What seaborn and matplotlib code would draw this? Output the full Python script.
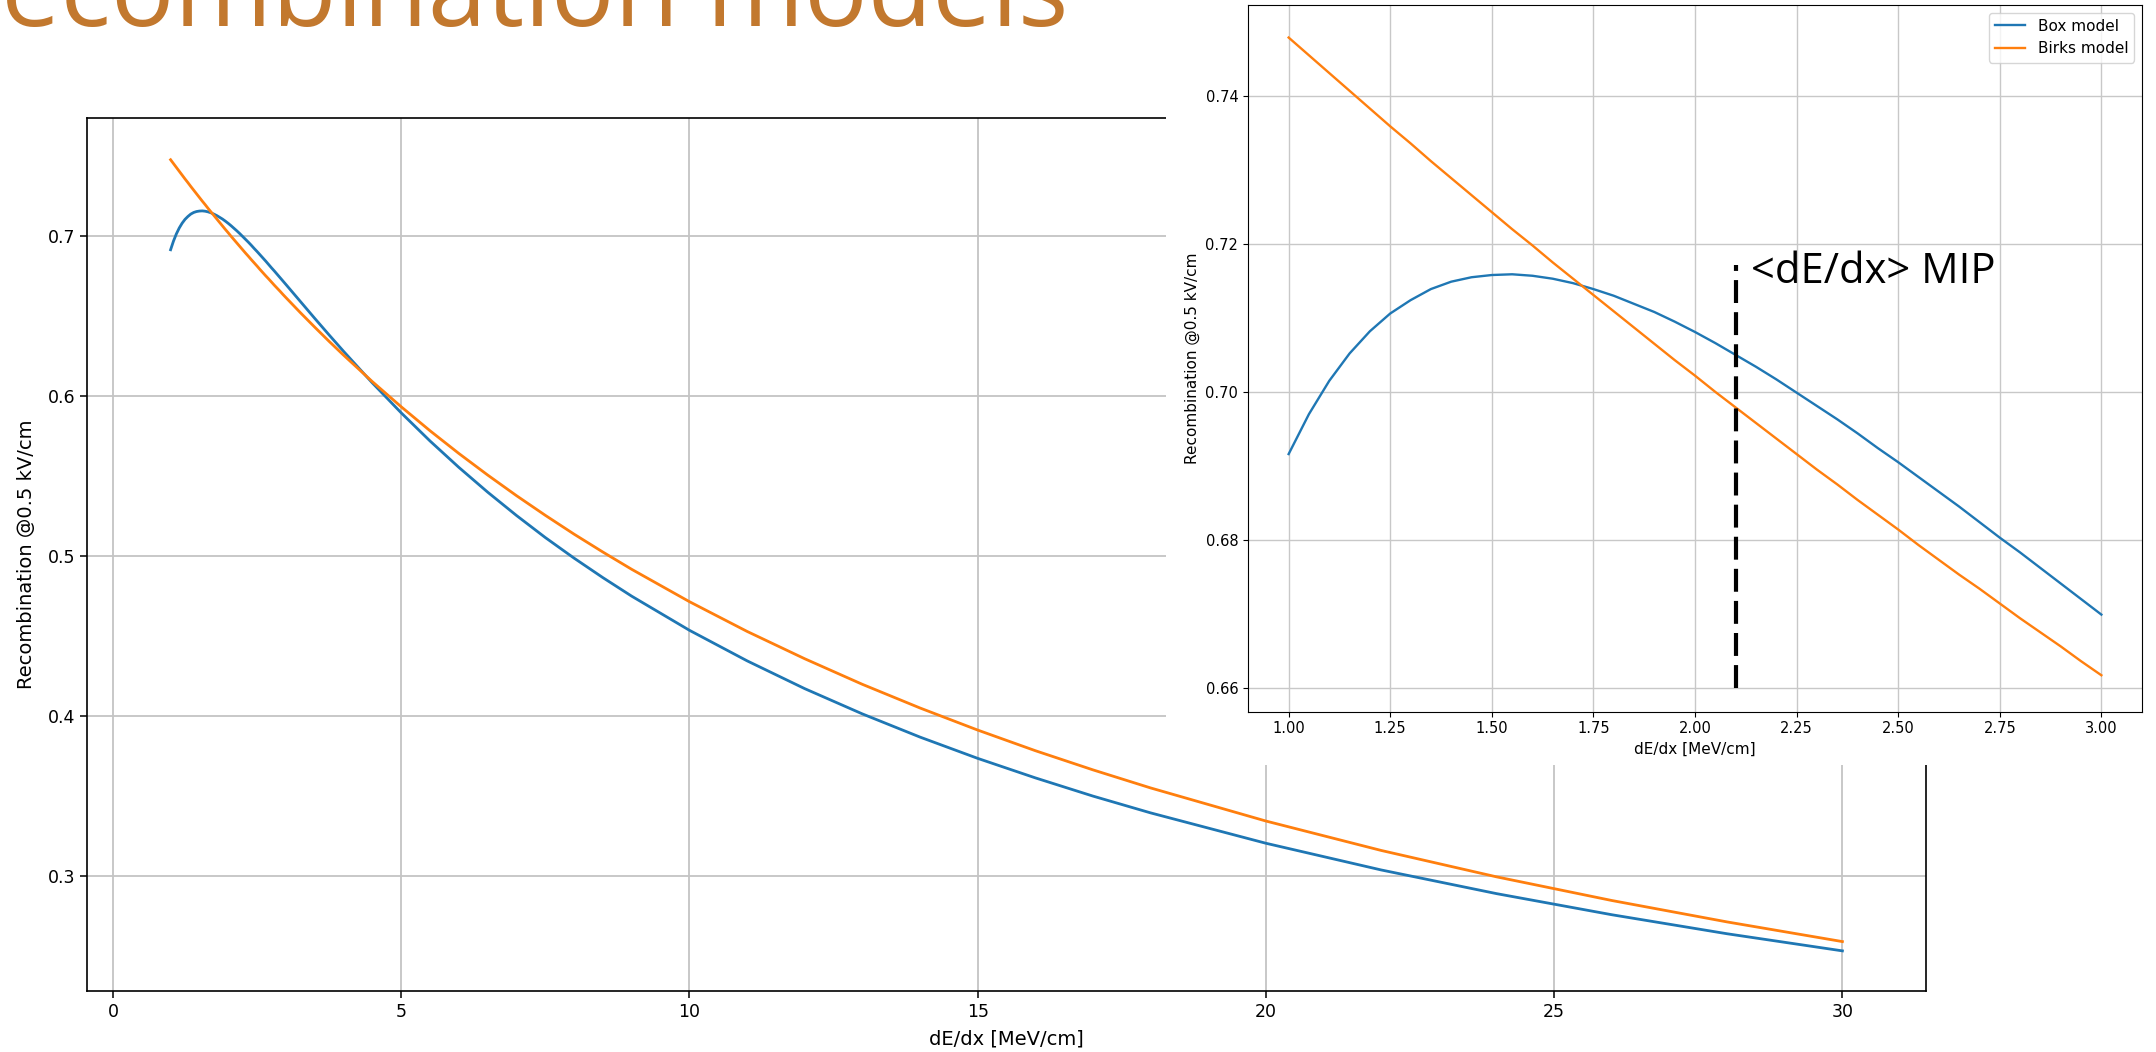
import matplotlib
matplotlib.use("Agg")
import matplotlib.pyplot as plt
from matplotlib.patches import Rectangle
import seaborn as sns
import pandas as pd

# ---- data ----
dedx = [1.00, 1.05, 1.10, 1.15, 1.20, 1.25, 1.30, 1.35, 1.40, 1.45,
        1.50, 1.55, 1.60, 1.65, 1.70, 1.75, 1.80, 1.85, 1.90, 1.95,
        2.00, 2.05, 2.10, 2.15, 2.20, 2.25, 2.30, 2.35, 2.40, 2.45,
        2.50, 2.55, 2.60, 2.65, 2.70, 2.75, 2.80, 2.85, 2.90, 2.95, 3.00,
        3.25, 3.5, 3.75, 4.0, 4.5, 5.0, 5.5, 6.0, 6.5, 7.0, 7.5, 8.0, 8.5,
        9.0, 10.0, 11.0, 12.0, 13.0, 14.0, 15.0, 16.0, 17.0, 18.0,
        20.0, 22.0, 24.0, 26.0, 28.0, 30.0]
box_model = [0.6916, 0.6970, 0.7015, 0.7052, 0.7082, 0.7106, 0.7124, 0.7139, 0.7149, 0.7155,
             0.7158, 0.7159, 0.7157, 0.7153, 0.7147, 0.7139, 0.7130, 0.7119, 0.7108, 0.7095,
             0.7081, 0.7066, 0.7050, 0.7034, 0.7017, 0.6999, 0.6981, 0.6963, 0.6944, 0.6924,
             0.6905, 0.6885, 0.6865, 0.6845, 0.6824, 0.6803, 0.6783, 0.6762, 0.6741, 0.6720, 0.6699,
             0.6593, 0.6487, 0.6383, 0.6281, 0.6083, 0.5896, 0.5720, 0.5555, 0.5400, 0.5254,
             0.5116, 0.4987, 0.4865, 0.4749, 0.4536, 0.4345, 0.4171, 0.4013, 0.3868, 0.3735,
             0.3613, 0.3499, 0.3394, 0.3204, 0.3037, 0.2889, 0.2757, 0.2638, 0.2531]
birks_model = [0.7479, 0.7455, 0.7431, 0.7407, 0.7383, 0.7359, 0.7336, 0.7312, 0.7289, 0.7266,
               0.7243, 0.7220, 0.7198, 0.7175, 0.7153, 0.7131, 0.7109, 0.7087, 0.7065, 0.7043,
               0.7022, 0.7000, 0.6979, 0.6958, 0.6937, 0.6916, 0.6895, 0.6875, 0.6854, 0.6834,
               0.6814, 0.6793, 0.6773, 0.6753, 0.6734, 0.6714, 0.6694, 0.6675, 0.6656, 0.6636, 0.6617,
               0.6523, 0.6432, 0.6343, 0.6257, 0.6091, 0.5934, 0.5784, 0.5642, 0.5507, 0.5378,
               0.5255, 0.5137, 0.5025, 0.4917, 0.4715, 0.4529, 0.4358, 0.4198, 0.4050, 0.3912,
               0.3783, 0.3663, 0.3550, 0.3343, 0.3159, 0.2994, 0.2846, 0.2712, 0.2589]
series_names = ["Box model", "Birks model"]
main_xticks = [0, 5, 10, 15, 20, 25, 30]
main_yticks = [0.3, 0.4, 0.5, 0.6, 0.7]
inset_xticks = [1.00, 1.25, 1.50, 1.75, 2.00, 2.25, 2.50, 2.75, 3.00]
inset_yticks = [0.66, 0.68, 0.70, 0.72, 0.74]
mip_x = 2.1
mip_y = [0.66, 0.7172]
mip_label = "<dE/dx> MIP"
title = "Recombination models"
xlabel = "dE/dx [MeV/cm]"
ylabel = "Recombination @0.5 kV/cm"

df = pd.DataFrame({
    "dedx": dedx * 2,
    "R": box_model + birks_model,
    "model": [series_names[0]] * len(dedx) + [series_names[1]] * len(dedx),
})
inset_df = df[df["dedx"] <= 3.0]
palette = {"Box model": "#1f77b4", "Birks model": "#ff7f0e"}

W, H = 2156, 1052
fig = plt.figure(figsize=(W / 100, H / 100), dpi=100)
fig.patch.set_facecolor("white")

# ---- title (slide text, cut at top) ----
fig.text(1068 / W, 1 - 26 / H, title, ha="right", va="baseline",
         fontsize=76, family=["Open Sans", "DejaVu Sans"], color="#C2782E")

# ---- main axes ----
ax = fig.add_axes([87 / W, 1 - 991 / H, (1926 - 87) / W, (991 - 118) / H])
ax.set_zorder(0)
sns.lineplot(data=df, x="dedx", y="R", hue="model", palette=palette,
             linewidth=2.0, ax=ax, legend=False, estimator=None, sort=False)
ax.set_xticks(main_xticks)
ax.set_yticks(main_yticks)
ax.set_xlim(-0.45, 31.45)
ax.set_ylim(0.228, 0.774)
ax.grid(True, color="#c4c4c4", linewidth=1.3)
ax.set_axisbelow(True)
ax.tick_params(labelsize=12.5, length=5, width=1.1)
ax.set_xlabel(xlabel, fontsize=14, labelpad=6)
ax.set_ylabel(ylabel, fontsize=14, labelpad=8)
for s in ax.spines.values():
    s.set_linewidth(1.2)

# ---- white cover behind the inset picture ----
cover = Rectangle((1166 / W, 1 - 765 / H), 1 - 1166 / W, 765 / H,
                  transform=fig.transFigure, facecolor="white",
                  edgecolor="none", zorder=1)
fig.add_artist(cover)

# ---- inset axes ----
ax2 = fig.add_axes([1248 / W, 1 - 711.5 / H, (2142 - 1248) / W, (711.5 - 5) / H])
ax2.set_zorder(2)
sns.lineplot(data=inset_df, x="dedx", y="R", hue="model", palette=palette,
             linewidth=1.7, ax=ax2, estimator=None, sort=False)
ax2.set_xticks(inset_xticks)
ax2.set_yticks(inset_yticks)
ax2.set_xticklabels([f"{v:.2f}" for v in inset_xticks])
ax2.set_yticklabels([f"{v:.2f}" for v in inset_yticks])
ax2.set_xlim(0.9, 3.1)
ax2.set_ylim(0.6568, 0.7523)
ax2.grid(True, color="#c8c8c8", linewidth=1.0)
ax2.set_axisbelow(True)
ax2.tick_params(labelsize=10.5)
ax2.set_xlabel(xlabel, fontsize=11)
ax2.set_ylabel(ylabel, fontsize=11)
handles, labels = ax2.get_legend_handles_labels()
ax2.legend(handles, labels, loc="upper right", fontsize=11)

ax2.plot([mip_x, mip_x], mip_y, color="black", linewidth=3.0,
         linestyle=(0, (5.5, 2.2)), zorder=5)
ax2.text(2.137, 0.7147, mip_label, ha="left", va="baseline", fontsize=30,
         family=["Open Sans", "DejaVu Sans"], color="black", zorder=6)

fig.savefig("out.png", dpi=100, facecolor="white")
